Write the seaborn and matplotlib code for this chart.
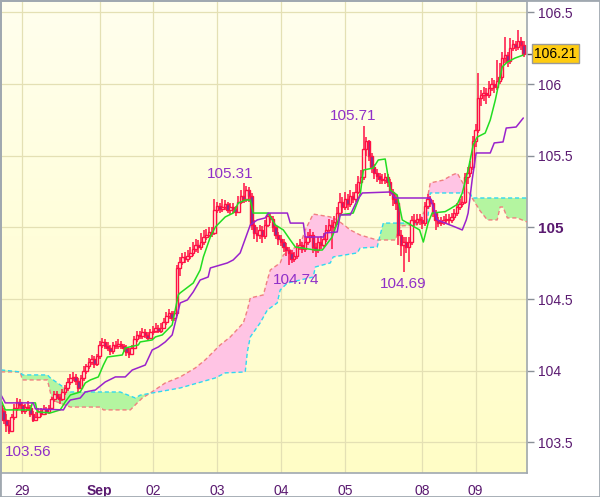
import numpy as np
import pandas as pd
import matplotlib
matplotlib.use("Agg")
import matplotlib.pyplot as plt
import matplotlib.transforms as mtrans
from matplotlib.patches import Rectangle
import seaborn as sns

sns.set_style("white")
plt.rcParams['font.family'] = ['Liberation Sans', 'DejaVu Sans']

# ---------------- data (hourly candles, index 0..196) ----------------
first_open = 103.76
closes = [
103.72,103.66,103.62,103.58,103.68,103.74,103.78,103.76,103.72,103.75,
103.74,103.70,103.66,103.68,103.72,103.70,103.73,103.71,103.74,103.80,
103.84,103.82,103.80,103.85,103.88,103.92,103.95,103.96,103.93,103.88,
103.95,104.00,104.03,104.06,104.08,104.05,104.10,104.18,104.20,104.17,
104.16,104.14,104.18,104.17,104.19,104.17,104.16,104.13,104.12,104.16,
104.22,104.25,104.24,104.27,104.25,104.23,104.27,104.28,104.30,104.28,
104.30,104.34,104.38,104.40,104.37,104.40,104.72,104.76,104.79,104.78,
104.80,104.82,104.85,104.88,104.86,104.90,104.93,104.95,104.97,104.96,
105.12,105.15,105.13,105.14,105.16,105.12,105.14,105.13,105.11,105.18,
105.22,105.20,105.26,105.22,105.02,104.96,104.95,104.98,104.94,105.02,
105.08,105.06,105.00,104.95,104.92,104.90,104.86,104.84,104.82,104.78,
104.80,104.86,104.88,104.85,104.90,104.93,104.95,104.86,104.84,104.90,
104.88,104.92,104.98,105.02,105.00,105.04,105.10,105.18,105.14,105.20,
105.16,105.22,105.20,105.25,105.32,105.35,105.55,105.60,105.50,105.42,
105.38,105.36,105.34,105.33,105.35,105.32,105.25,105.20,105.17,104.95,
104.88,104.90,104.86,104.90,105.05,105.04,105.06,105.05,105.03,105.15,
105.20,105.17,105.10,105.05,105.03,105.04,105.05,105.06,105.05,105.07,
105.10,105.14,105.16,105.18,105.35,105.38,105.42,105.60,105.68,105.90,
105.92,105.94,105.92,105.97,106.00,105.98,106.02,106.05,106.18,106.20,
106.16,106.25,106.28,106.26,106.30,106.27,106.21]
highs = [
103.80,103.74,103.70,103.66,103.70,103.77,103.81,103.80,103.78,103.77,
103.79,103.76,103.72,103.71,103.74,103.74,103.76,103.75,103.76,103.82,
103.86,103.86,103.84,103.87,103.90,103.95,103.98,103.99,103.98,103.95,
103.97,104.03,104.05,104.09,104.11,104.10,104.12,104.21,104.23,104.22,
104.20,104.18,104.20,104.21,104.22,104.21,104.19,104.18,104.16,104.18,
104.24,104.28,104.28,104.30,104.29,104.27,104.29,104.31,104.33,104.32,
104.33,104.37,104.41,104.43,104.42,104.42,104.74,104.79,104.82,104.83,
104.84,104.86,104.90,104.92,104.91,104.96,104.98,104.99,105.00,105.00,
105.20,105.18,105.17,105.20,105.19,105.18,105.17,105.17,105.15,105.22,
105.26,105.31,105.29,105.28,105.24,105.05,105.00,105.02,105.01,105.05,
105.10,105.10,105.08,105.02,104.97,104.95,104.92,104.89,104.86,104.84,
104.83,104.89,104.92,104.90,104.94,104.97,104.99,104.97,104.89,104.93,
104.94,104.96,105.02,105.06,105.05,105.08,105.14,105.24,105.21,105.25,
105.23,105.26,105.25,105.30,105.36,105.40,105.71,105.63,105.61,105.52,
105.44,105.41,105.38,105.37,105.38,105.37,105.34,105.27,105.23,105.19,
104.98,104.93,104.93,104.93,105.08,105.09,105.09,105.09,105.07,105.18,
105.23,105.22,105.19,105.12,105.07,105.07,105.08,105.09,105.09,105.10,
105.13,105.17,105.20,105.22,105.38,105.42,105.46,105.64,105.72,106.08,
105.96,105.98,105.97,106.02,106.04,106.03,106.17,106.15,106.22,106.33,
106.22,106.32,106.31,106.30,106.38,106.33,106.30]
lows = [
103.66,103.63,103.57,103.56,103.57,103.66,103.72,103.73,103.70,103.70,
103.72,103.68,103.64,103.65,103.67,103.68,103.69,103.69,103.70,103.73,
103.78,103.80,103.77,103.79,103.83,103.86,103.90,103.93,103.90,103.85,
103.87,103.93,103.98,104.01,104.04,104.02,104.03,104.08,104.16,104.15,
104.14,104.11,104.12,104.15,104.15,104.15,104.13,104.10,104.09,104.11,
104.15,104.20,104.22,104.22,104.23,104.21,104.22,104.25,104.26,104.26,
104.26,104.29,104.32,104.36,104.35,104.35,104.38,104.66,104.74,104.75,
104.76,104.78,104.80,104.83,104.82,104.84,104.88,104.91,104.93,104.93,
104.95,105.10,105.10,105.11,105.12,105.10,105.09,105.10,105.08,105.10,
105.16,105.17,105.18,105.18,104.98,104.92,104.90,104.92,104.89,104.92,
105.00,105.03,104.97,104.92,104.88,104.87,104.83,104.80,104.74,104.75,
104.76,104.78,104.84,104.82,104.83,104.88,104.90,104.82,104.79,104.82,
104.85,104.86,104.90,104.96,104.85,104.97,105.02,105.08,105.10,105.12,
105.12,105.14,105.17,105.18,105.23,105.30,105.33,105.50,105.46,105.38,
105.34,105.32,105.30,105.30,105.30,105.28,105.22,105.15,105.12,104.88,
104.80,104.69,104.82,104.76,104.88,105.01,105.02,105.02,104.99,105.01,
105.13,105.14,105.07,104.98,105.00,105.01,105.02,105.03,105.02,105.03,
105.05,105.08,105.12,105.14,105.16,105.30,105.35,105.40,105.56,105.66,
105.85,105.88,105.86,105.90,105.95,105.94,105.96,106.00,106.03,106.15,
106.12,106.14,106.23,106.23,106.24,106.24,106.19]

# Ichimoku lines: breakpoints (candle index, price)
tenkan_idx = [0,1.6,11,11.75,12.9,13.6,18.5,22.2,24.1,26,29.7,31.6,33.5,36.5,38.4,39.9,45.5,46.6,51.5,52.2,
              56.7,57.9,60.5,64.2,66.5,67.2,72.1,74.7,75.9,78.5,80.4,84.1,87.1,89,91.6,93.5,94.6,100.2,102.9,105.9,
              108.5,110.4,117.9,120.5,124.2,127.2,132.1,134,134.8,135.9,139.6,141.5,144.1,146,148.6,150.5,157,158.4,160.2,161.7,
              166.6,168.5,171.1,173,175.2,177.1,178.6,181.6,183.5,185.4,188,189.9,192.8,195.9]
tenkan_val = [103.796,103.727,103.727,103.776,103.776,103.713,103.706,103.727,103.783,103.831,103.852,103.915,103.936,103.957,104.04,104.096,104.11,104.159,104.18,104.201,
              104.215,104.236,104.25,104.32,104.53,104.543,104.612,104.703,104.794,104.933,105.003,105.073,105.10,105.17,105.191,105.191,105.10,105.10,105.017,104.982,
              104.912,104.863,104.842,104.842,104.933,105.087,105.10,105.19,105.24,105.40,105.414,105.47,105.477,105.26,105.226,105.052,104.982,104.898,105.03,105.10,
              105.11,105.13,105.16,105.24,105.40,105.575,105.63,105.658,105.749,105.888,106.12,106.153,106.181,106.202]
kijun_idx = [0,1.6,12.1,12.9,23.4,24.5,26,29.7,31.6,35.4,39.1,42.9,46.6,49.2,54.1,56.7,59,61.6,64.2,65.4,
             67.2,69.9,72.1,73.6,74.7,77.7,78.5,84.9,87.1,89.7,92.4,93.5,96.1,99.1,100.2,107.4,108.5,113.4,114.1,120.9,
             121.6,126.1,127.2,131,133.6,135.5,146,147.9,161,162.1,163.6,170.3,173,174.5,175.2,176.7,178.2,183.5,185,188.3,
             189.5,193.2,195.9]
kijun_val = [103.831,103.776,103.776,103.734,103.727,103.762,103.796,103.81,103.852,103.866,103.922,103.957,103.957,104.005,104.04,104.145,104.166,104.201,104.25,104.34,
             104.473,104.494,104.55,104.598,104.633,104.654,104.717,104.752,104.773,104.822,104.961,105.017,105.052,105.066,105.10,105.10,105.03,105.03,104.933,104.933,
             104.961,104.968,105.087,105.087,105.19,105.24,105.247,105.205,105.205,105.142,105.052,105.003,104.982,105.052,105.10,105.33,105.519,105.519,105.589,105.596,
             105.693,105.70,105.763]
spanA_idx = [0,7.2,8,17.4,19.2,26,37.2,38.4,48.5,51.1,53,56,61.6,67.2,72.9,76.6,82.2,86,90.9,92.4,
             93.5,98.4,99.9,101,104.7,105.9,108.5,112.2,114.1,117.1,123.5,126.1,129.1,131,134.7,141.1,143,147.9,149.7,156.1,
             159.1,161,165.9,169.2,171.1,173,174.8,176.7,179.7,182.4,186.1,187.2,188.3,189.9,193.6,197.3]
spanA_val = [103.992,103.992,103.936,103.936,103.796,103.747,103.747,103.727,103.727,103.776,103.81,103.845,103.915,103.957,104.02,104.076,104.18,104.236,104.334,104.424,
             104.508,104.529,104.633,104.703,104.752,104.808,104.842,104.877,104.982,105.093,105.073,105.052,105.01,104.982,104.947,104.912,104.912,104.912,105.01,105.017,
             105.121,105.31,105.33,105.365,105.379,105.317,105.261,105.205,105.115,105.052,105.052,105.142,105.142,105.066,105.066,105.038]
spanB_idx = [0,7.2,8,17.4,18.5,26,44.7,50.4,52.2,67.2,80.4,84.1,91.6,92.4,93.5,97.2,99.9,103.6,104.7,107.4,
             117.1,117.9,123.5,124.6,133.6,134.7,141.1,142.2,143.4,159.9,161,176,176.7,197.3]
spanB_val = [104.006,103.992,103.971,103.971,103.95,103.852,103.852,103.81,103.83,103.88,103.95,103.985,103.992,104.132,104.236,104.334,104.424,104.473,104.563,104.612,
             104.654,104.724,104.752,104.794,104.822,104.856,104.863,104.947,105.03,105.03,105.24,105.24,105.205,105.205]

day_ticks_idx = [8, 37, 57, 81, 105, 129, 158, 178]
day_labels = ['29', 'Sep', '02', '03', '04', '05', '08', '09']
price_ticks = [103.5, 104.0, 104.5, 105.0, 105.5, 106.0, 106.5]
price_labels = ['103.5', '104', '104.5', '105', '105.5', '106', '106.5']
extreme_labels = ['105.31', '105.71', '104.74', '104.69', '103.56']
extreme_pos = [(86, 105.37), (132.1, 105.777), (110.7, 104.633), (150.9, 104.605), (1.6, 103.434)]
last_price = 106.21

# ---------------- figure ----------------
fig = plt.figure(figsize=(6.0, 4.97), dpi=100, facecolor='white')
ax = fig.add_axes([0.0017, 0.0483, 0.8767, 0.9497])
xlim = (0.0, 197.3)
ylim = (103.287, 106.579)

grad = np.linspace(0, 1, 256).reshape(-1, 1)
top_c = np.array([255, 255, 238]) / 255
bot_c = np.array([255, 253, 198]) / 255
img = top_c[None, None, :] * (1 - grad[..., None]) + bot_c[None, None, :] * grad[..., None]
ax.imshow(img, extent=[xlim[0], xlim[1], ylim[0], ylim[1]], aspect='auto', zorder=0, origin='upper')

# grid
for t in day_ticks_idx:
    ax.axvline(t, color='#E4E0B4', lw=0.9, zorder=1)
for p in price_ticks:
    ax.axhline(p, color='#E4E0B4', lw=0.9, zorder=1)

# cloud
grid = np.linspace(0, 197.3, 3000)
a = np.interp(grid, spanA_idx, spanA_val)
b = np.interp(grid, spanB_idx, spanB_val)
ax.fill_between(grid, a, b, where=a >= b, color='#FFC4E4', interpolate=True, lw=0, zorder=2)
ax.fill_between(grid, a, b, where=b > a, color='#B4F5A0', interpolate=True, lw=0, zorder=2)
sns.lineplot(x=spanA_idx, y=spanA_val, ax=ax, color='#F08080', lw=1.0, linestyle=(0, (3, 2)), zorder=3)
sns.lineplot(x=spanB_idx, y=spanB_val, ax=ax, color='#30D8F0', lw=1.0, linestyle=(0, (3, 2)), zorder=3)

# candles
df = pd.DataFrame({'close': closes, 'high': highs, 'low': lows})
df['open'] = [first_open] + closes[:-1]
df['idx'] = np.arange(len(df))
up = df['close'] >= df['open']
ax.vlines(df['idx'], df['low'], df['high'], color='#FF1044', lw=1.1, zorder=4)
body_lo = np.minimum(df['open'], df['close'])
body_h = np.maximum(np.abs(df['close'] - df['open']), 0.004)
ax.bar(df['idx'], body_h, bottom=body_lo, width=0.9,
       color=np.where(up, '#FFFFE4', '#6A3C9C'), edgecolor='#FF1044', linewidth=1.0, zorder=5)

# tenkan / kijun
sns.lineplot(x=tenkan_idx, y=tenkan_val, ax=ax, color='#22DD22', lw=1.1, zorder=6)
sns.lineplot(x=kijun_idx, y=kijun_val, ax=ax, color='#9A22CC', lw=1.1, zorder=6)

# extreme labels
for txt, (xi, yp) in zip(extreme_labels, extreme_pos):
    ax.text(xi, yp, txt, color='#9030C8', fontsize=11,
            ha='left' if txt == '103.56' else 'center', va='center', zorder=7)

ax.set_xlim(*xlim)
ax.set_ylim(*ylim)
ax.set_xlabel('')
ax.set_ylabel('')

ax.yaxis.tick_right()
ax.set_yticks(price_ticks)
ax.set_yticklabels(price_labels)
ax.set_xticks(day_ticks_idx)
ax.set_xticklabels(day_labels)
ax.tick_params(axis='both', length=5, width=1, color='#8A9098', labelcolor='#5A1A70', labelsize=10, pad=3, direction='out')
for lab in ax.get_yticklabels():
    if lab.get_text() == '105':
        lab.set_fontweight('bold'); lab.set_fontsize(11)
for lab in ax.get_xticklabels():
    if lab.get_text() == 'Sep':
        lab.set_fontweight('bold')

for s in ax.spines.values():
    s.set_color('#A0A8B0'); s.set_linewidth(1.2)

# last price box
trans = mtrans.blended_transform_factory(ax.transAxes, ax.transData)
ax.plot([1.0, 1.012], [last_price, last_price], color='#555555', lw=1, transform=trans, clip_on=False)
ax.text(1.014, last_price, '106.21', transform=trans, fontsize=10, color='black', ha='left', va='center',
        bbox=dict(boxstyle='square,pad=0.18', fc='#FFCC10', ec='#9A9A9A', lw=1), zorder=8)

fig.patches.append(Rectangle((0, 0), 1, 1, transform=fig.transFigure, fill=False, ec='#A0A8B0', lw=2))

fig.savefig('out.png', dpi=100, facecolor='white')
